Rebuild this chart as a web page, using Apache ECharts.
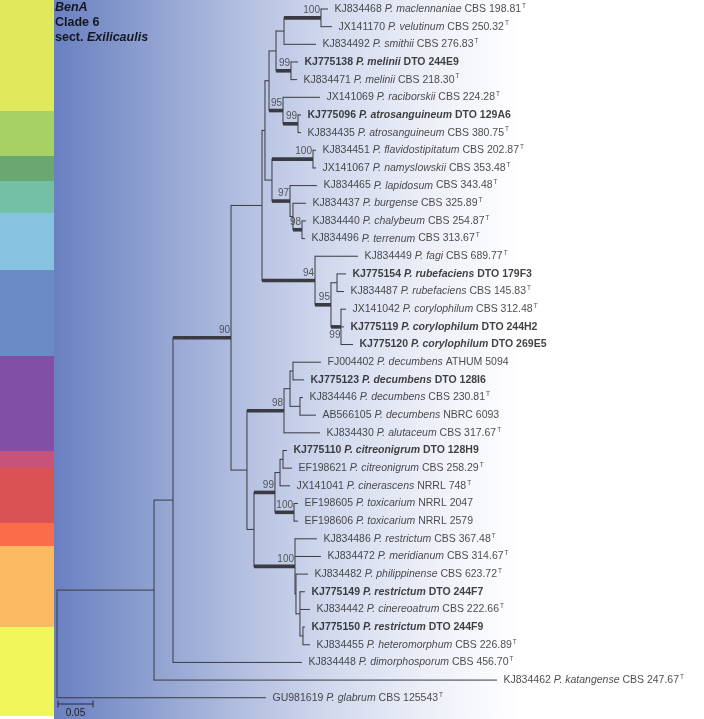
<!DOCTYPE html>
<html>
<head>
<meta charset="utf-8">
<script src="https://cdn.jsdelivr.net/npm/echarts@6/dist/echarts.min.js"></script>
<style>
html,body{margin:0;padding:0;background:#fff;}
#chart{width:704px;height:719px;}
</style>
</head>
<body>
<div id="chart"></div>
<script>
// ---------- DATA ----------
// Internal nodes of the BenA tree: id, parent, distance from root (subst./site), bootstrap support
const nodeId      = ['root','S2','S1','N90','U','W','A','P2','P1','N100a','N99mel','N95','N99atro','B','N100fl','N97','C','N98ch','N94','N95r','Rp','N99c','F','N98d','H','I','J','G','N99ci','K','L','N100t','N100r','Q','M','O'];
const nodeParent  = [null,'root','S2','S1','N90','U','W','A','P2','P1','P2','A','N95','W','B','B','N97','C','U','N94','N95r','N95r','N90','F','N98d','H','H','F','G','N99ci','K','N99ci','G','N100r','Q','M'];
const nodeDepth   = [0,0.1386,0.1657,0.2486,0.2929,0.2971,0.3029,0.3129,0.3243,0.3771,0.3343,0.3229,0.3443,0.3071,0.3657,0.3329,0.3371,0.3500,0.3686,0.3914,0.4000,0.4057,0.2714,0.3243,0.3329,0.3371,0.3471,0.2814,0.3114,0.3186,0.3229,0.3386,0.3400,0.3414,0.3471,0.3514];
const nodeSupport = ['','','','90','','','','','','100','99','95','99','','100','97','','98','94','95','','99','','98','','','','','99','','','100','100','','',''];
const supportBelow = ['N99c'];

// Leaves (top to bottom)
const leafAcc = ['KJ834468','JX141170','KJ834492','KJ775138','KJ834471','JX141069','KJ775096','KJ834435','KJ834451','JX141067','KJ834465','KJ834437','KJ834440','KJ834496','KJ834449','KJ775154','KJ834487','JX141042','KJ775119','KJ775120','FJ004402','KJ775123','KJ834446','AB566105','KJ834430','KJ775110','EF198621','JX141041','EF198605','EF198606','KJ834486','KJ834472','KJ834482','KJ775149','KJ834442','KJ775150','KJ834455','KJ834448','KJ834462','GU981619'];
const leafSpecies = ['P. maclennaniae','P. velutinum','P. smithii','P. melinii','P. melinii','P. raciborskii','P. atrosanguineum','P. atrosanguineum','P. flavidostipitatum','P. namyslowskii','P. lapidosum','P. burgense','P. chalybeum','P. terrenum','P. fagi','P. rubefaciens','P. rubefaciens','P. corylophilum','P. corylophilum','P. corylophilum','P. decumbens','P. decumbens','P. decumbens','P. decumbens','P. alutaceum','P. citreonigrum','P. citreonigrum','P. cinerascens','P. toxicarium','P. toxicarium','P. restrictum','P. meridianum','P. philippinense','P. restrictum','P. cinereoatrum','P. restrictum','P. heteromorphum','P. dimorphosporum','P. katangense','P. glabrum'];
const leafStrain = ['CBS 198.81','CBS 250.32','CBS 276.83','DTO 244E9','CBS 218.30','CBS 224.28','DTO 129A6','CBS 380.75','CBS 202.87','CBS 353.48','CBS 343.48','CBS 325.89','CBS 254.87','CBS 313.67','CBS 689.77','DTO 179F3','CBS 145.83','CBS 312.48','DTO 244H2','DTO 269E5','ATHUM 5094','DTO 128I6','CBS 230.81','NBRC 6093','CBS 317.67','DTO 128H9','CBS 258.29','NRRL 748','NRRL 2047','NRRL 2579','CBS 367.48','CBS 314.67','CBS 623.72','DTO 244F7','CBS 222.66','DTO 244F9','CBS 226.89','CBS 456.70','CBS 247.67','CBS 125543'];
const leafExType = [1,1,1,0,1,1,0,1,1,1,1,1,1,1,1,0,1,1,0,0,0,0,1,0,1,0,1,1,0,0,1,1,1,0,1,0,1,1,1,1];
const leafBold   = [0,0,0,1,0,0,1,0,0,0,0,0,0,0,0,1,0,0,1,1,0,1,0,0,0,1,0,0,0,0,0,0,0,1,0,1,0,0,0,0];
const leafParent = ['N100a','N100a','P1','N99mel','N99mel','N95','N99atro','N99atro','N100fl','N100fl','N97','C','N98ch','N98ch','N94','Rp','Rp','N99c','N99c','N99c','I','I','J','J','N98d','L','L','K','N100t','N100t','N100r','N100r','Q','M','M','O','O','S1','S2','root'];
const leafDepth  = [0.3871,0.3929,0.3700,0.3443,0.3429,0.3757,0.3486,0.3486,0.3700,0.3700,0.3714,0.3557,0.3557,0.3543,0.4300,0.4129,0.4100,0.4129,0.4100,0.4229,0.3771,0.3529,0.3514,0.3700,0.3757,0.3286,0.3357,0.3329,0.3443,0.3443,0.3714,0.3771,0.3586,0.3543,0.3614,0.3543,0.3614,0.3500,0.6286,0.2986];

const scaleBarLength = 0.05;
const scaleBarLabel = '0.05';
const titleLines = ['BenA','Clade 6','sect. Exilicaulis'];

// side strip colour bands (px boundaries) – decoration
const bandEnds   = [111,156,181,213,270,356,451,468,523,546,627,716];
const bandColors = ['#dfe95b','#a7d163','#6aa86f','#74c0a7','#86c3e0','#6b8bc7','#8150a6','#c8537a','#d95254','#fb6c4a','#fbb962','#f1f65a'];

// ---------- BUILD ----------
const FONT = '"Liberation Sans", Arial, Helvetica, sans-serif';
const LFS = 10.5;
const depthOf = {}, parentOf = {}, yOf = {}, kids = {};
nodeId.forEach((id, i) => { depthOf[id] = nodeDepth[i]; parentOf[id] = nodeParent[i]; kids[id] = []; });
leafAcc.forEach((a, i) => { const k = 'leaf' + i; depthOf[k] = leafDepth[i]; parentOf[k] = leafParent[i]; yOf[k] = i; kids[leafParent[i]].push(k); });
nodeId.forEach((id, i) => { if (nodeParent[i]) kids[nodeParent[i]].push(id); });
function computeY(id) {
  if (yOf[id] !== undefined) return yOf[id];
  const ys = kids[id].map(computeY);
  yOf[id] = (Math.min(...ys) + Math.max(...ys)) / 2;
  return yOf[id];
}
computeY('root');

const branchData = [];
leafAcc.forEach((a, i) => {
  const k = 'leaf' + i;
  branchData.push([depthOf[parentOf[k]], depthOf[k], yOf[k], yOf[k], yOf[k], 0]);
});
nodeId.forEach((id, i) => {
  const ys = kids[id].map(c => yOf[c]);
  const pd = nodeParent[i] ? depthOf[nodeParent[i]] : nodeDepth[i];
  branchData.push([pd, nodeDepth[i], yOf[id], Math.min(...ys), Math.max(...ys), nodeSupport[i] ? 1 : 0]);
});

const leafLabelData = leafAcc.map((a, i) => {
  const b = leafBold[i];
  const txt = '{' + (b ? 'b' : 'n') + '|' + a + ' }' +
              '{' + (b ? 'bi' : 'i') + '|' + leafSpecies[i] + '}' +
              '{' + (b ? 'b' : 'n') + '| ' + leafStrain[i] + '}' +
              (leafExType[i] ? '{s|T}' : '');
  return { value: [leafDepth[i], i], name: txt };
});

const supportData = [];
nodeId.forEach((id, i) => {
  if (!nodeSupport[i]) return;
  const below = supportBelow.indexOf(id) >= 0;
  supportData.push({
    value: [nodeDepth[i], yOf[id]], name: nodeSupport[i],
    label: below ? { position: [0, 4], align: 'right', verticalAlign: 'top' }
                 : { position: [-0.5, -2], align: 'right', verticalAlign: 'bottom' }
  });
});

// pixel mapping helpers for axes extents
const ROW0 = 9, ROW = 17.66, H = 719, W = 704, LEFT = 57, PXU = 700;
const yMin = -ROW0 / ROW, yMax = (H - ROW0) / ROW;
const xMax = (W - LEFT) / PXU;
const scaleRow = (704 - ROW0) / ROW;

const graphics = [];
let prev = 0;
bandEnds.forEach((e, i) => {
  graphics.push({ type: 'rect', z: -20, shape: { x: 0, y: prev, width: 54, height: e - prev }, style: { fill: bandColors[i] } });
  prev = e;
});
graphics.push({
  type: 'rect', z: -20, shape: { x: 54, y: 0, width: W - 54, height: H },
  style: { fill: { type: 'linear', x: 0, y: 0, x2: 1, y2: 0, colorStops: [
    { offset: 0, color: '#6a80c1' }, { offset: 0.15, color: '#8fa1d1' }, { offset: 0.29, color: '#b3bfe0' },
    { offset: 0.43, color: '#d3daee' }, { offset: 0.57, color: '#eceff8' }, { offset: 0.72, color: '#ffffff' }, { offset: 1, color: '#ffffff' } ] } }
});
graphics.push({
  type: 'text', x: 55, y: 0, z: 50,
  style: {
    text: '{bi|' + titleLines[0] + '}\n{b|' + titleLines[1] + '}\n{b|sect. }{bi|' + titleLines[2].replace('sect. ', '') + '}',
    rich: {
      b: { fontFamily: FONT, fontSize: 12.5, fontWeight: 'bold', lineHeight: 15, fill: '#16161e' },
      bi: { fontFamily: FONT, fontSize: 12.5, fontWeight: 'bold', fontStyle: 'italic', lineHeight: 15, fill: '#16161e' }
    }
  }
});

const chart = echarts.init(document.getElementById('chart'), null, { renderer: 'canvas' });
const LINE = '#3a3a42';
chart.setOption({
  animation: false,
  backgroundColor: '#ffffff',
  grid: { left: LEFT, right: 0, top: 0, bottom: 0, containLabel: false },
  xAxis: { type: 'value', min: 0, max: xMax, show: false },
  yAxis: { type: 'value', min: yMin, max: yMax, inverse: true, show: false },
  graphic: graphics,
  series: [
    {
      type: 'custom', data: branchData, clip: false, silent: true,
      encode: { x: [0, 1], y: [2, 3, 4] },
      renderItem: function (params, api) {
        const thick = api.value(5) === 1;
        const p0 = api.coord([api.value(0), api.value(2)]);
        const p1 = api.coord([api.value(1), api.value(2)]);
        const children = [];
        if (p1[0] - p0[0] > 0.1) {
          children.push({ type: 'line', shape: { x1: p0[0], y1: p0[1], x2: p1[0], y2: p1[1] },
            style: { stroke: LINE, lineWidth: thick ? 3.6 : 1, lineCap: 'butt' } });
        }
        if (api.value(4) > api.value(3)) {
          const a = api.coord([api.value(1), api.value(3)]);
          const b = api.coord([api.value(1), api.value(4)]);
          children.push({ type: 'line', shape: { x1: a[0], y1: a[1] - 0.5, x2: b[0], y2: b[1] + 0.5 },
            style: { stroke: LINE, lineWidth: 1 } });
        }
        return { type: 'group', children: children };
      }
    },
    {
      type: 'scatter', data: leafLabelData, symbolSize: 1, silent: true,
      itemStyle: { color: 'rgba(0,0,0,0)' },
      label: {
        show: true, position: 'right', distance: 6, formatter: p => p.name,
        rich: {
          n: { fontFamily: FONT, fontSize: LFS, color: '#222', lineHeight: 13 },
          i: { fontFamily: FONT, fontSize: LFS, color: '#222', fontStyle: 'italic', lineHeight: 13 },
          b: { fontFamily: FONT, fontSize: LFS, color: '#111', fontWeight: 'bold', lineHeight: 13 },
          bi: { fontFamily: FONT, fontSize: LFS, color: '#111', fontWeight: 'bold', fontStyle: 'italic', lineHeight: 13 },
          s: { fontFamily: FONT, fontSize: 6.5, color: '#222', lineHeight: 7, verticalAlign: 'top', padding: [0, 0, 0, 1] }
        }
      }
    },
    {
      type: 'scatter', data: supportData, symbolSize: 1, silent: true,
      itemStyle: { color: 'rgba(0,0,0,0)' },
      label: { show: true, formatter: p => p.name, fontFamily: FONT, fontSize: 10, color: '#333' }
    },
    {
      type: 'custom', data: [[0, scaleBarLength, scaleRow]], clip: false, silent: true,
      encode: { x: [0, 1], y: 2 },
      renderItem: function (params, api) {
        const a = api.coord([api.value(0), api.value(2)]);
        const b = api.coord([api.value(1), api.value(2)]);
        const st = { stroke: '#2a2a35', lineWidth: 1 };
        return { type: 'group', children: [
          { type: 'line', shape: { x1: a[0] + 1, y1: a[1], x2: b[0] + 1, y2: b[1] }, style: st },
          { type: 'line', shape: { x1: a[0] + 1, y1: a[1] - 3.5, x2: a[0] + 1, y2: a[1] + 3.5 }, style: st },
          { type: 'line', shape: { x1: b[0] + 1, y1: b[1] - 3.5, x2: b[0] + 1, y2: b[1] + 3.5 }, style: st },
          { type: 'text', x: (a[0] + b[0]) / 2 + 1, y: a[1] + 4, style: { text: scaleBarLabel, fontFamily: FONT, fontSize: 10, fill: '#222', align: 'center', verticalAlign: 'top' } }
        ] };
      }
    }
  ]
});
</script>
</body>
</html>
